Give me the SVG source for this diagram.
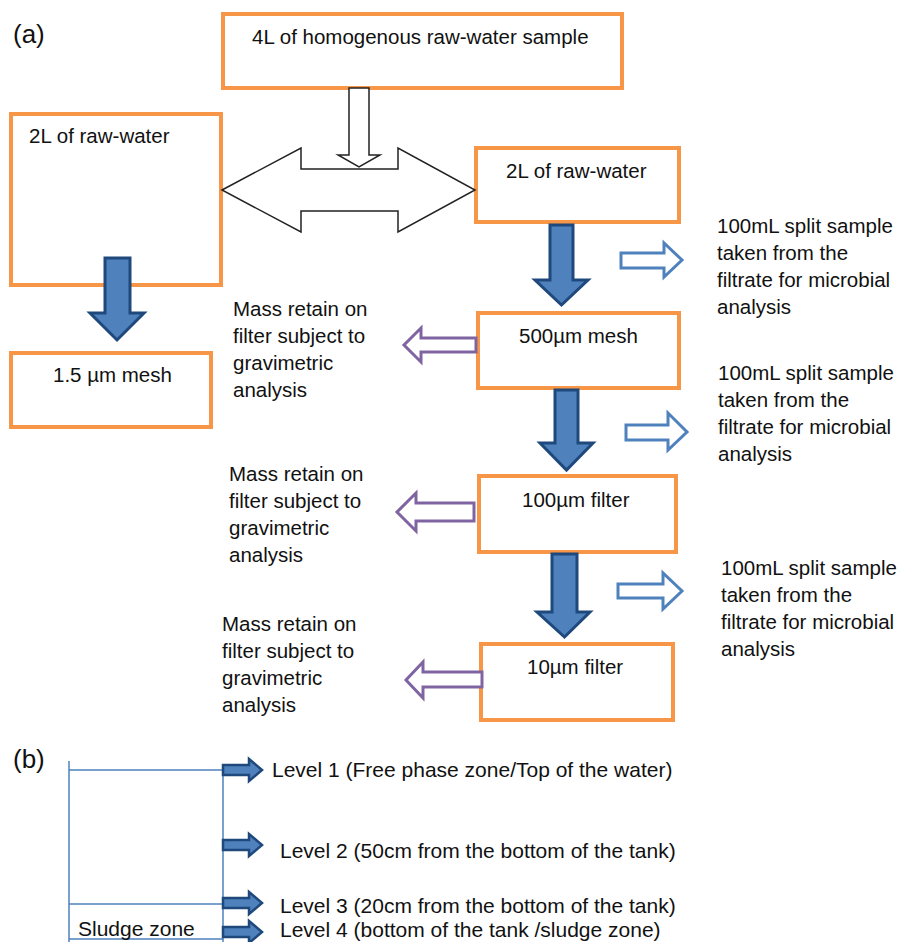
<svg xmlns="http://www.w3.org/2000/svg" width="907" height="942" viewBox="0 0 907 942">
<style>
.box{fill:#fff;stroke:#F79646;stroke-width:4}
.t{font-family:"Liberation Sans",Arial,sans-serif;font-size:20.5px;fill:#111}
.tl{font-family:"Liberation Sans",Arial,sans-serif;font-size:21px;fill:#111}
.lab{font-family:"Liberation Sans",Arial,sans-serif;font-size:26px;fill:#111}
.down{fill:#4F81BD;stroke:#1F497D;stroke-width:3;stroke-linejoin:miter}
.hollow{fill:#fff;stroke:#222;stroke-width:1.5}
.blueh{fill:#fff;stroke:#4F81BD;stroke-width:3}
.purh{fill:#fff;stroke:#8064A2;stroke-width:3}
.ln{stroke:#4F81BD;stroke-width:1.5;fill:none}
.small{fill:#4F81BD;stroke:#1F497D;stroke-width:2.5}
</style>
<rect width="907" height="942" fill="#fff"/>
<text class="lab" x="13" y="43">(a)</text>
<text class="lab" x="13" y="768">(b)</text>

<g id="top-box"><rect class="box" x="223" y="14" width="399" height="74"/><text class="t" x="252" y="44">4L of homogenous raw-water sample</text></g>
<g id="left-raw"><rect class="box" x="11" y="114" width="210" height="171"/><text class="t" x="29" y="143">2L of raw-water</text></g>
<g id="right-raw"><rect class="box" x="476" y="148" width="203" height="74"/><text class="t" x="506" y="178">2L of raw-water</text></g>
<g id="mesh500"><rect class="box" x="478" y="313" width="201" height="75"/><text class="t" x="519" y="343">500µm mesh</text></g>
<g id="filter100"><rect class="box" x="479" y="476" width="197" height="76"/><text class="t" x="522" y="507">100µm filter</text></g>
<g id="filter10"><rect class="box" x="481" y="644" width="192" height="76"/><text class="t" x="527" y="674">10µm filter</text></g>
<g id="mesh15"><rect class="box" x="11" y="353" width="200" height="74"/><text class="t" x="53" y="382">1.5 µm mesh</text></g>

<g id="note-micro-1"><text class="t" x="717" y="233">100mL split sample</text><text class="t" x="717" y="260">taken from the</text><text class="t" x="717" y="287">filtrate for microbial</text><text class="t" x="717" y="314">analysis</text></g>
<g id="note-micro-2"><text class="t" x="718" y="380">100mL split sample</text><text class="t" x="718" y="407">taken from the</text><text class="t" x="718" y="434">filtrate for microbial</text><text class="t" x="718" y="461">analysis</text></g>
<g id="note-micro-3"><text class="t" x="721" y="575">100mL split sample</text><text class="t" x="721" y="602">taken from the</text><text class="t" x="721" y="629">filtrate for microbial</text><text class="t" x="721" y="656">analysis</text></g>
<g id="note-mass-1"><text class="t" x="233" y="316">Mass retain on</text><text class="t" x="233" y="343">filter subject to</text><text class="t" x="233" y="370">gravimetric</text><text class="t" x="233" y="397">analysis</text></g>
<g id="note-mass-2"><text class="t" x="229" y="481">Mass retain on</text><text class="t" x="229" y="508">filter subject to</text><text class="t" x="229" y="535">gravimetric</text><text class="t" x="229" y="562">analysis</text></g>
<g id="note-mass-3"><text class="t" x="222" y="631">Mass retain on</text><text class="t" x="222" y="658">filter subject to</text><text class="t" x="222" y="685">gravimetric</text><text class="t" x="222" y="712">analysis</text></g>

<g id="connectors">
<polygon class="hollow" points="349,88 369,88 369,155 380,155 359,167 338,155 349,155"/>
<polygon class="hollow" points="222,190 301,148 301,169 398,169 398,148 475,190 398,232 398,211 301,211 301,232"/>
<polygon class="down" points="105,258 130,258 130,313 144,313 117,340 90,313 105,313"/>
<polygon class="down" points="550,225 573,225 573,280 588,280 561.5,305 535,280 550,280"/>
<polygon class="down" points="555,390 578,390 578,443 593,443 566.5,470 540,443 555,443"/>
<polygon class="down" points="552,554 577,554 577,612 590,612 564.5,637 537,612 552,612"/>
<polygon class="blueh" points="621,253 664,253 664,243 682,260 664,277 664,268 621,268"/>
<polygon class="blueh" points="626,425 668,425 668,413 687,432 668,450 668,440 626,440"/>
<polygon class="blueh" points="618,584 663,584 663,573 682,591 663,609 663,598 618,598"/>
<polygon class="purh" points="476,338 421,338 421,328 404,345 421,362 421,352 476,352"/>
<polygon class="purh" points="474,503 416,503 416,493 397,512 416,531 416,521 474,521"/>
<polygon class="purh" points="482,672 423,672 423,662 406,680 423,698 423,687 482,687"/>
</g>

<g id="tank">
<path class="ln" d="M69,761 V942 M69,770 H223 M223,770 V942 M69,904 H223 M69,939 H223"/>
<text class="tl" x="78" y="936">Sludge zone</text>
</g>
<g id="level-arrows">
<polygon class="small" points="223,765 249,765 249,759 262,770 249,781 249,775 223,775"/>
<polygon class="small" points="223,840 249,840 249,834 262,845 249,856 249,850 223,850"/>
<polygon class="small" points="223,898 249,898 249,892 262,903 249,914 249,908 223,908"/>
<polygon class="small" points="223,927 249,927 249,921 262,932 249,943 249,937 223,937"/>
</g>
<g id="level-labels">
<text class="tl" x="272" y="777">Level 1 (Free phase zone/Top of the water)</text>
<text class="tl" x="280" y="858">Level 2 (50cm from the bottom of the tank)</text>
<text class="tl" x="280" y="913">Level 3 (20cm from the bottom of the tank)</text>
<text class="tl" x="280" y="937">Level 4 (bottom of the tank /sludge zone)</text>
</g>
</svg>
